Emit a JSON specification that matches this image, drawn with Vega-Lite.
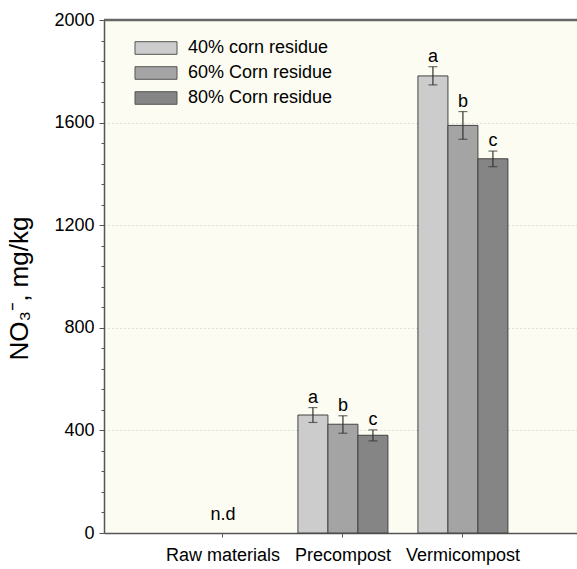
{
  "$schema": "https://vega.github.io/schema/vega-lite/v6.json",
  "width": 473,
  "height": 513,
  "autosize": {"type": "none"},
  "padding": {"left": 104, "top": 20, "right": 0, "bottom": 36},
  "background": "white",
  "config": {
    "font": "Liberation Sans",
    "view": {"fill": "#fcfcf2", "stroke": null},
    "axis": {"labelColor": "black", "titleColor": "black", "titleFontWeight": "normal"}
  },
  "datasets": {
    "bars": [
      {"stage": "Precompost", "residue": "40% corn residue", "mean": 460, "lo": 431, "hi": 489, "letter": "a"},
      {"stage": "Precompost", "residue": "60% Corn residue", "mean": 424, "lo": 389, "hi": 457, "letter": "b"},
      {"stage": "Precompost", "residue": "80% Corn residue", "mean": 381, "lo": 359, "hi": 402, "letter": "c"},
      {"stage": "Vermicompost", "residue": "40% corn residue", "mean": 1782, "lo": 1747, "hi": 1818, "letter": "a"},
      {"stage": "Vermicompost", "residue": "60% Corn residue", "mean": 1589, "lo": 1535, "hi": 1643, "letter": "b"},
      {"stage": "Vermicompost", "residue": "80% Corn residue", "mean": 1459, "lo": 1428, "hi": 1489, "letter": "c"}
    ],
    "nd": [{"stage": "Raw materials", "label": "n.d"}],
    "frame": [{"edge": 2000}]
  },
  "resolve": {"axis": {"x": "independent", "y": "independent"}},
  "layer": [
    {
      "data": {"name": "bars"},
      "mark": {"type": "bar", "stroke": "#444444", "strokeWidth": 1},
      "encoding": {
        "x": {
          "field": "stage", "type": "nominal",
          "scale": {"domain": ["Raw materials", "Precompost", "Vermicompost"], "paddingInner": 0.25, "paddingOuter": 0.596, "align": 0.517},
          "axis": {"orient": "bottom", "title": null, "labelAngle": 0, "labelFontSize": 18, "labelPadding": 9, "tickSize": 4, "tickColor": "#555555", "domainColor": "#555555", "domainWidth": 1.5, "grid": false}
        },
        "xOffset": {"field": "residue", "type": "nominal", "scale": {"domain": ["40% corn residue", "60% Corn residue", "80% Corn residue"], "paddingInner": 0, "paddingOuter": 0}},
        "y": {
          "field": "mean", "type": "quantitative",
          "scale": {"domain": [0, 2000], "nice": false, "zero": true},
          "axis": {
            "orient": "left",
            "title": "NO₃⁻, mg/kg",
            "titleFontSize": 26,
            "titleX": -72,
            "titleY": 268,
            "values": [0, 400, 800, 1200, 1600, 2000],
            "format": "d",
            "labelOverlap": false,
            "labelFontSize": 18,
            "labelPadding": 5,
            "tickColor": "#555555",
            "tickSize": 5,
            "domainColor": "#555555",
            "domainWidth": 1.5,
            "grid": true,
            "gridColor": "#c4c4c4",
            "gridDash": [1, 3],
            "gridOpacity": {"condition": {"test": "datum.value > 0 && datum.value < 2000", "value": 1}, "value": 0}
          }
        },
        "color": {
          "field": "residue", "type": "nominal",
          "scale": {"domain": ["40% corn residue", "60% Corn residue", "80% Corn residue"], "range": ["#cccccc", "#a4a4a4", "#858585"]},
          "legend": {
            "title": null,
            "orient": "none",
            "legendX": 43,
            "legendY": 19,
            "padding": 0,
            "symbolType": "M-3,-0.9H3V0.9H-3Z",
            "symbolSize": 196,
            "symbolStrokeColor": "#555555",
            "symbolStrokeWidth": 1,
            "symbolOpacity": 1,
            "labelFontSize": 18,
            "labelColor": "black",
            "labelOffset": 23,
            "rowPadding": 7
          }
        }
      }
    },
    {
      "data": {"name": "bars"},
      "mark": {"type": "rule", "color": "#333333", "strokeWidth": 1.2},
      "encoding": {
        "x": {"field": "stage", "type": "nominal", "axis": null},
        "xOffset": {"field": "residue", "type": "nominal"},
        "y": {
          "field": "lo", "type": "quantitative",
          "axis": {
            "orient": "left",
            "title": null,
            "values": [80, 160, 240, 320, 480, 560, 640, 720, 880, 960, 1040, 1120, 1280, 1360, 1440, 1520, 1680, 1760, 1840, 1920],
            "labels": false,
            "domain": false,
            "grid": false,
            "ticks": true,
            "tickSize": 3,
            "tickColor": "#555555"
          }
        },
        "y2": {"field": "hi"}
      }
    },
    {
      "data": {"name": "bars"},
      "mark": {"type": "tick", "orient": "horizontal", "size": 9, "thickness": 1.2, "color": "#333333"},
      "encoding": {
        "x": {"field": "stage", "type": "nominal", "axis": null},
        "xOffset": {"field": "residue", "type": "nominal"},
        "y": {"field": "lo", "type": "quantitative", "axis": null}
      }
    },
    {
      "data": {"name": "bars"},
      "mark": {"type": "tick", "orient": "horizontal", "size": 9, "thickness": 1.2, "color": "#333333"},
      "encoding": {
        "x": {"field": "stage", "type": "nominal", "axis": null},
        "xOffset": {"field": "residue", "type": "nominal"},
        "y": {"field": "hi", "type": "quantitative", "axis": null}
      }
    },
    {
      "data": {"name": "bars"},
      "mark": {"type": "text", "baseline": "alphabetic", "dy": -5, "fontSize": 18, "color": "black"},
      "encoding": {
        "x": {"field": "stage", "type": "nominal", "axis": null},
        "xOffset": {"field": "residue", "type": "nominal"},
        "y": {"field": "hi", "type": "quantitative", "axis": null},
        "text": {"field": "letter"}
      }
    },
    {
      "data": {"name": "nd"},
      "mark": {"type": "text", "baseline": "alphabetic", "dy": -13, "fontSize": 18, "color": "black"},
      "encoding": {
        "x": {"field": "stage", "type": "nominal", "axis": null},
        "y": {"datum": 0, "axis": null},
        "text": {"field": "label"}
      }
    },
    {
      "data": {"name": "frame"},
      "mark": {"type": "rule", "color": "#666666", "strokeWidth": 2.5},
      "encoding": {
        "x": {"value": 0},
        "x2": {"value": {"expr": "width"}},
        "y": {"field": "edge", "type": "quantitative", "axis": null}
      }
    }
  ]
}
